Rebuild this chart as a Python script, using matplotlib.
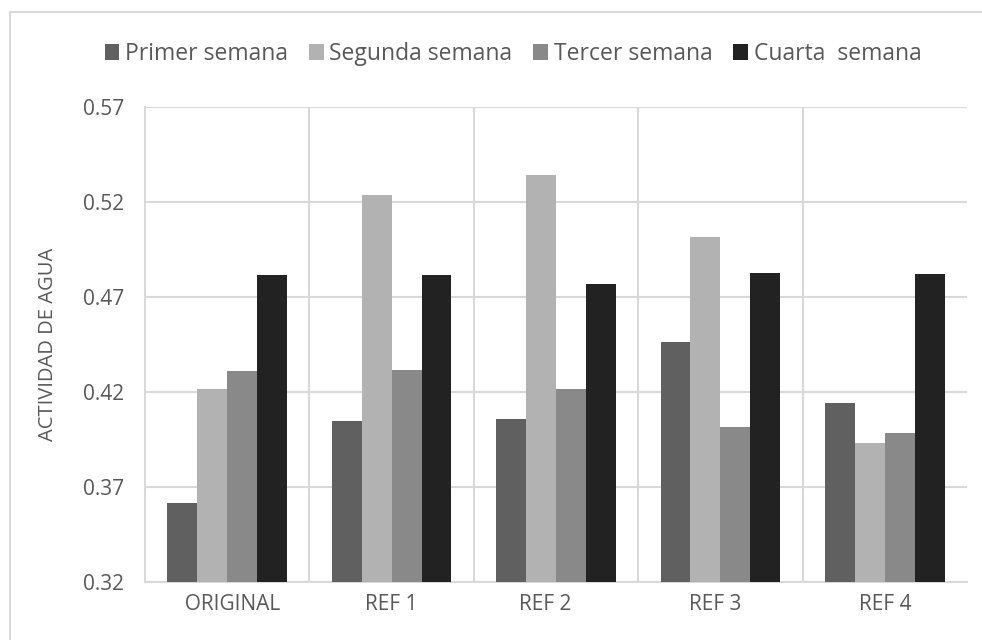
import numpy as np
import matplotlib.pyplot as plt
from matplotlib.lines import Line2D

plt.rcParams['font.family'] = ['Open Sans', 'DejaVu Sans']

categories = ['ORIGINAL', 'REF 1', 'REF 2', 'REF 3', 'REF 4']
tick_labels = ['  ORIGINAL', 'REF 1', 'REF 2    ', 'REF 3  ', 'REF 4']
series = ['Primer semana', 'Segunda semana', 'Tercer semana', 'Cuarta  semana']
primer = [0.3614, 0.4049, 0.4060, 0.4463, 0.4144]
segunda = [0.4216, 0.5235, 0.5340, 0.5014, 0.3930]
tercer = [0.4311, 0.4318, 0.4218, 0.4014, 0.3986]
cuarta = [0.4818, 0.4818, 0.4768, 0.4826, 0.4820]
colors = ['#606060', '#b2b2b2', '#898989', '#222222']
yticks = [0.32, 0.37, 0.42, 0.47, 0.52, 0.57]

W, H = 982, 640
fig = plt.figure(figsize=(W / 100, H / 100), dpi=100)
ax = fig.add_axes([145 / W, 1 - 582 / H, (967 - 145) / W, (582 - 107) / H])

x = np.arange(len(categories))
bw = 0.182
data = [primer, segunda, tercer, cuarta]
for i, (vals, name, col) in enumerate(zip(data, series, colors)):
    ax.bar(x + (i - 1.5) * bw, np.array(vals) - 0.32, bw, bottom=0.32,
           color=col, label=name, zorder=3)

ax.set_xlim(-0.5, len(categories) - 0.5)
ax.set_ylim(0.32, 0.57)
ax.set_yticks(yticks)
ax.set_yticklabels(['%.2f' % v for v in yticks])
ax.set_xticks(x)
ax.set_xticklabels(tick_labels)
for b in np.arange(0.5, len(categories) - 0.5, 1):
    ax.axvline(b, color='#d9d9d9', lw=1.5, zorder=1)
ax.grid(axis='y', color='#d9d9d9', lw=1.5, zorder=1)
for s in ['top', 'right']:
    ax.spines[s].set_visible(False)
ax.spines['bottom'].set_color('#d9d9d9')
ax.spines['bottom'].set_linewidth(1.5)
ax.spines['left'].set_color('#d9d9d9')
ax.spines['left'].set_linewidth(1.5)
ax.tick_params(length=0, labelsize=15, colors='#595959', pad=9)
ax.tick_params(axis='y', pad=15)
ax.set_ylabel('ACTIVIDAD DE AGUA', fontsize=14.5, color='#595959')
ax.yaxis.set_label_coords(-0.106, 0.5)

fig.legend(loc='center', bbox_to_anchor=(513 / W, 1 - 54 / H), ncol=4,
           frameon=False, fontsize=16.5, labelcolor='#595959',
           handlelength=0.65, handleheight=0.65, handletextpad=0.25,
           columnspacing=0.9)

# chart area border (only top and left edges visible)
fig.add_artist(Line2D([10 / W, 1], [1 - 12 / H, 1 - 12 / H], color='#d9d9d9', lw=1.5))
fig.add_artist(Line2D([10 / W, 10 / W], [0, 1 - 12 / H], color='#d9d9d9', lw=1.5))

fig.savefig('out.png', dpi=100)
